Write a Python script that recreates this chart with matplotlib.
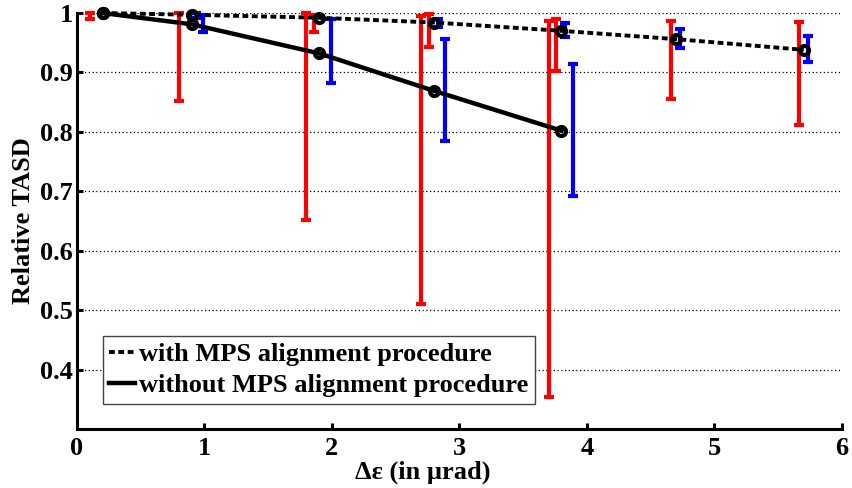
import numpy as np
import matplotlib
matplotlib.use("Agg")
import matplotlib.pyplot as plt
from matplotlib.lines import Line2D

# ---------------------------------------------------------------------------
# data
# ---------------------------------------------------------------------------
x_with = np.array([0.2, 0.9, 1.9, 2.8, 3.8, 4.7, 5.7])
tasd_with = np.array([1.0, 0.997, 0.992, 0.984, 0.970, 0.956, 0.938])
with_red_lo = np.array([np.nan, np.nan, 0.968, 0.942, 0.903, 0.855, 0.811])
with_red_hi = np.array([np.nan, np.nan, 0.997, 0.998, 0.990, 0.986, 0.985])
with_blue_lo = np.array([np.nan, 0.992, np.nan, 0.976, 0.959, 0.941, 0.918])
with_blue_hi = np.array([np.nan, 1.0, np.nan, 0.990, 0.983, 0.973, 0.961])

x_without = np.array([0.2, 0.9, 1.9, 2.8, 3.8])
tasd_without = np.array([1.0, 0.981, 0.932, 0.869, 0.802])
without_red_lo = np.array([0.990, 0.852, 0.652, 0.510, 0.354])
without_red_hi = np.array([1.0, 1.0, 1.0, 0.995, 0.987])
without_blue_lo = np.array([np.nan, 0.968, 0.883, 0.784, 0.692])
without_blue_hi = np.array([np.nan, 0.997, 0.990, 0.956, 0.914])

labels = ["with MPS alignment procedure", "without MPS alignment procedure"]
yticks = [0.4, 0.5, 0.6, 0.7, 0.8, 0.9, 1.0]
ytick_labels = ["0.4", "0.5", "0.6", "0.7", "0.8", "0.9", "1"]

# ---------------------------------------------------------------------------
plt.rcParams["font.family"] = ["Liberation Serif", "DejaVu Serif"]
plt.rcParams["font.weight"] = "bold"
FS = 19

fig = plt.figure(figsize=(8.53, 4.88), dpi=100)
ax = fig.add_axes([77 / 853, 1 - 429 / 488, 765 / 853, 416 / 488])


def bars(x, lo, hi, color):
    ax.errorbar(x, (lo + hi) / 2, yerr=(hi - lo) / 2, fmt="none",
                ecolor=color, elinewidth=3.0, capsize=3.3, capthick=3.0,
                zorder=3, clip_on=False)


bars(x_without - 0.10, without_red_lo, without_red_hi, "#ff0000")
bars(x_with - 0.04, with_red_lo, with_red_hi, "#ff0000")
bars(x_with + 0.03, with_blue_lo, with_blue_hi, "#0000ff")
bars(x_without + 0.09, without_blue_lo, without_blue_hi, "#0000ff")

ax.plot(x_with, tasd_with, color="black", lw=2.8, dashes=(1.5, 0.9),
        marker="o", ms=6.5, mew=3.0, mfc="none", mec="black",
        zorder=5, clip_on=False)
ax.plot(x_without, tasd_without, color="black", lw=3.2,
        marker="o", ms=6.5, mew=3.0, mfc="none", mec="black",
        zorder=5, clip_on=False)

ax.set_xlim(0, 6)
ax.set_ylim(0.3, 1.0)
ax.set_xticks(range(7))
ax.set_yticks(yticks)
ax.set_yticklabels(ytick_labels)

ax.yaxis.grid(True, color="black", ls=(0, (1, 2)), lw=0.9)
ax.set_axisbelow(True)

for s in ("top", "right"):
    ax.spines[s].set_visible(False)
for s in ("left", "bottom"):
    ax.spines[s].set_linewidth(2.2)

ax.tick_params(direction="in", length=4.5, width=2.2, labelsize=FS)
ax.tick_params(axis="x", pad=6)
ax.tick_params(axis="y", pad=3)
for t in ax.get_xticklabels() + ax.get_yticklabels():
    t.set_fontweight("bold")

ax.set_xlabel("\u0394\u03b5 (in \u00b5rad)", fontsize=FS, fontweight="bold")
ax.xaxis.set_label_coords(0.452, -0.076)
ax.set_ylabel("Relative TASD", fontsize=FS, fontweight="bold")
ax.yaxis.set_label_coords(-0.055, 0.5)

handles = [Line2D([], [], color="black", lw=2.8, dashes=(1.5, 0.9)),
           Line2D([], [], color="black", lw=3.2)]
leg = ax.legend(handles, labels, loc="lower left",
                bbox_to_anchor=(25.5 / 765, 25 / 416), borderaxespad=0,
                prop={"size": FS, "weight": "bold"}, frameon=True,
                fancybox=False, framealpha=1, edgecolor="#444444",
                handlelength=1.0, handletextpad=0.15, borderpad=0.25,
                labelspacing=0.3)
leg.get_frame().set_linewidth(1.0)

fig.savefig("out.png", dpi=100)
